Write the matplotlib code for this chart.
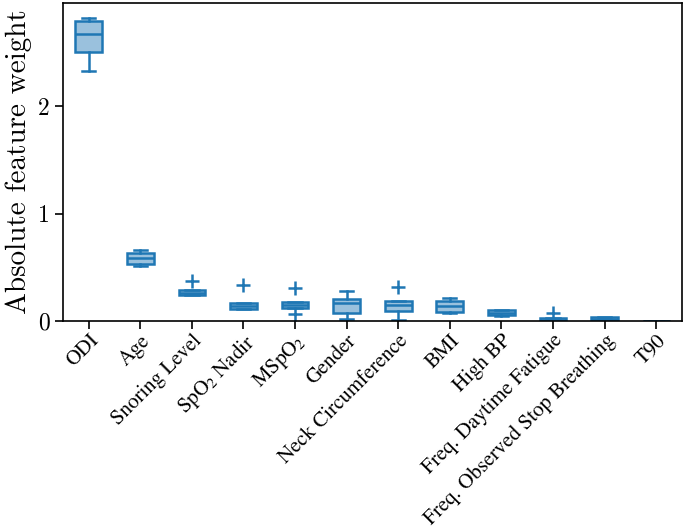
import matplotlib
matplotlib.use("Agg")
import matplotlib.pyplot as plt

plt.rcParams['mathtext.fontset'] = 'stix'

categories = ["ODI", "Age", "Snoring Level", "SpO$_2$ Nadir", "MSpO$_2$", "Gender",
              "Neck Circumference", "BMI", "High BP", "Freq. Daytime Fatigue",
              "Freq. Observed Stop Breathing", "T90"]
whislo = [2.33, 0.512, 0.239, 0.107, 0.121, 0.021, 0.005, 0.072, 0.049, 0.003, 0.003, 0.0005]
q1     = [2.50, 0.527, 0.239, 0.112, 0.121, 0.077, 0.093, 0.087, 0.053, 0.003, 0.003, 0.0005]
med    = [2.67, 0.589, 0.263, 0.140, 0.146, 0.170, 0.150, 0.137, 0.077, 0.012, 0.020, 0.001]
q3     = [2.79, 0.635, 0.288, 0.170, 0.174, 0.205, 0.182, 0.186, 0.100, 0.025, 0.037, 0.0015]
whishi = [2.82, 0.658, 0.288, 0.170, 0.174, 0.279, 0.182, 0.217, 0.102, 0.025, 0.037, 0.0015]
fliers = [[], [], [0.372], [0.335], [0.304, 0.062], [], [0.319], [], [], [0.075], [], []]
yticks = [0, 1, 2]

stats = []
for i, name in enumerate(categories):
    stats.append(dict(label=name, whislo=whislo[i], q1=q1[i], med=med[i],
                      q3=q3[i], whishi=whishi[i], fliers=fliers[i]))

blue = '#1f77b4'
fig = plt.figure(figsize=(6.86, 5.31), dpi=100)
ax = fig.add_axes([0.0918, 0.3955, 0.9022, 0.599])

ax.bxp(stats, patch_artist=True, widths=0.52,
       boxprops=dict(facecolor=(0.122, 0.467, 0.706, 0.45), edgecolor=blue, linewidth=1.8),
       medianprops=dict(color=blue, linewidth=1.8),
       whiskerprops=dict(color=blue, linewidth=1.8),
       capprops=dict(color=blue, linewidth=1.8),
       flierprops=dict(marker='+', markeredgecolor=blue, markersize=10, markeredgewidth=1.8))

ax.set_xlim(0.5, 12.5)
ax.set_ylim(0, 2.96)
ax.set_yticks(yticks)
ax.set_yticklabels([str(t) for t in yticks], fontfamily='cmr10', fontsize=17)
ax.set_xticks(range(1, len(categories) + 1))
ax.set_xticklabels(categories, rotation=45, ha='right', rotation_mode='anchor',
                   fontfamily='STIXGeneral', fontsize=15)
ax.set_ylabel("Absolute feature weight", fontfamily='cmr10', fontsize=21, labelpad=4)
ax.tick_params(axis='both', direction='out', length=6, width=1.2, color='black')
ax.tick_params(axis='x', pad=1)
for s in ax.spines.values():
    s.set_linewidth(1.2)
    s.set_color('black')

fig.savefig("out.png", dpi=100)
